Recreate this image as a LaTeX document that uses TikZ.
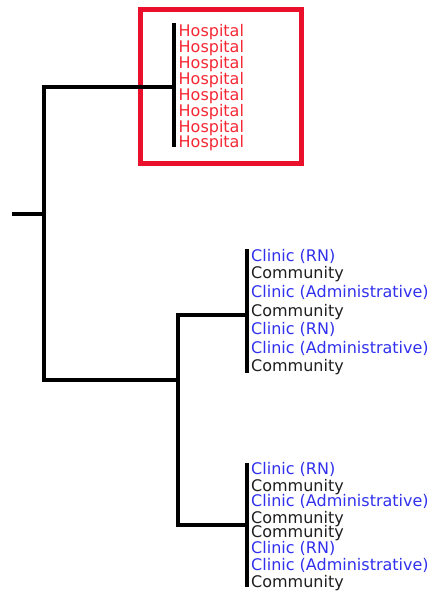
\documentclass[tikz,border=0pt]{standalone}
\usepackage{fontspec}
\setmainfont{DejaVu Sans}
\definecolor{boxred}{RGB}{234,16,44}
\definecolor{hospred}{RGB}{245,40,52}
\definecolor{clinblue}{RGB}{48,48,238}
\definecolor{commgray}{RGB}{30,30,30}
\begin{document}
\begin{tikzpicture}[x=1pt,y=-1pt,
  branch/.style={line width=4.5pt, black, line join=miter, line cap=butt},
  lbl/.style={anchor=base west, inner sep=0pt, font=\fontsize{16}{16}\selectfont},
  hosp/.style={lbl, text=hospred},
  clin/.style={lbl, text=clinblue},
  comm/.style={lbl, text=commgray},
  frame/.style={draw=boxred, line width=5pt, inner sep=0pt}]
\useasboundingbox (0,0) rectangle (435,592);
% red frame
\node[frame, minimum width=161.5pt, minimum height=154.2pt] (box) at (220.75,86.6) {};
% tree coordinates
\coordinate (root) at (12,214);
\coordinate (n0) at (44,214);
\coordinate (n0top) at (44,87);
\coordinate (n0bot) at (44,380);
\coordinate (h) at (174,87);
\coordinate (htop) at (174,23);
\coordinate (hbot) at (174,147);
\coordinate (n1) at (178,380);
\coordinate (n1top) at (178,315);
\coordinate (n1bot) at (178,525);
\coordinate (c1) at (247,315);
\coordinate (c1top) at (247,249);
\coordinate (c1bot) at (247,373);
\coordinate (c2) at (247,525);
\coordinate (c2top) at (247,463);
\coordinate (c2bot) at (247,587);
% branches
\draw[branch] (root) -- (n0);
\draw[branch] (h) -- (n0top) -- (n0bot) -- (n1);
\draw[branch] (c1) -- (n1top) -- (n1bot) -- (c2);
\draw[branch] (htop) -- (hbot);
\draw[branch] (c1top) -- (c1bot);
\draw[branch] (c2top) -- (c2bot);
% hospital labels
\node[hosp] (h1) at (178.5,36.5) {Hospital};
\node[hosp] (h2) at (178.5,52.5) {Hospital};
\node[hosp] (h3) at (178.5,68.5) {Hospital};
\node[hosp] (h4) at (178.5,84.5) {Hospital};
\node[hosp] (h5) at (178.5,100.5) {Hospital};
\node[hosp] (h6) at (178.5,116.5) {Hospital};
\node[hosp] (h7) at (178.5,132.5) {Hospital};
\node[hosp] (h8) at (178.5,147.5) {Hospital};
% group 1
\node[clin] (a1) at (251,261.5) {Clinic (RN)};
\node[comm] (a2) at (251,278.5) {Community};
\node[clin] (a3) at (251,297.5) {Clinic (Administrative)};
\node[comm] (a4) at (251,316.5) {Community};
\node[clin] (a5) at (251,334) {Clinic (RN)};
\node[clin] (a6) at (251,353.5) {Clinic (Administrative)};
\node[comm] (a7) at (251,371) {Community};
% group 2
\node[clin] (b1) at (251,474) {Clinic (RN)};
\node[comm] (b2) at (251,491) {Community};
\node[clin] (b3) at (251,506) {Clinic (Administrative)};
\node[comm] (b4) at (251,523.5) {Community};
\node[comm] (b5) at (251,537) {Community};
\node[clin] (b6) at (251,553.5) {Clinic (RN)};
\node[clin] (b7) at (251,570.5) {Clinic (Administrative)};
\node[comm] (b8) at (251,587) {Community};
\end{tikzpicture}
\end{document}
